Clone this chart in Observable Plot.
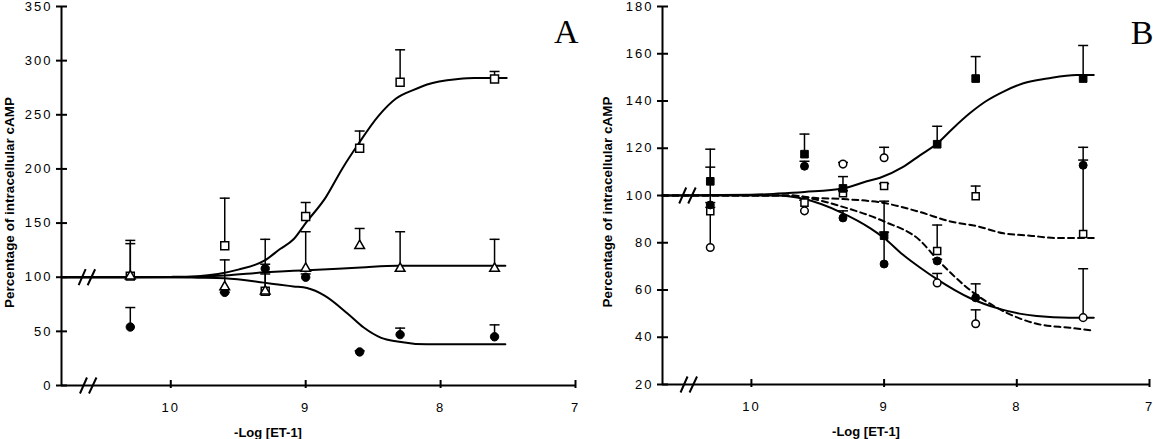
<!DOCTYPE html>
<html><head><meta charset="utf-8">
<script src="https://cdn.jsdelivr.net/npm/d3@7"></script>
<script src="https://cdn.jsdelivr.net/npm/@observablehq/plot@0.6"></script>
<style>
body{margin:0;background:#fff;}
#wrap{position:relative;width:1153px;height:439px;overflow:hidden;background:#fff}
#a{position:absolute;left:0;top:0}
#b{position:absolute;left:580px;top:0}
svg{overflow:visible}
[aria-label="x-axis tick label"], [aria-label="y-axis tick label"]{letter-spacing:2px}
</style></head><body><div id="wrap"><div id="a"></div><div id="b"></div></div>
<script>
// ---------- Panel A data ----------
const logA = [10.3, 9.6, 9.3, 9.0, 8.6, 8.3, 7.6];
const aSquare = [101, 129, 87, 156, 219, 280, 283];
const aSquareHi = [134, 173, 103, 169, 235, 310, 290];
const aTriangle = [101, 91, 87, 108, 129, 108, 108];
const aTriangleHi = [131, 116, 112, 142, 145, 142, 135];
const aCircle = [54, 86, 108, 100, 31, 47, 45];
const aCircleHi = [72, 86, 135, 103, 32, 53, 56];
const aFitUpX = [10.81, 10.3, 10.0, 9.8, 9.65, 9.5, 9.31, 9.19, 9.09, 9.0, 8.85, 8.73, 8.61, 8.46, 8.33, 8.2, 8.1, 7.87, 7.75, 7.51];
const aFitUpY = [100, 100, 100.3, 101, 103, 107, 115, 126, 135, 150, 174, 200, 223, 249, 265, 273, 278, 283, 284, 284];
const aFitMidX = [10.81, 10.0, 9.6, 9.3, 9.09, 8.99, 8.59, 8.32, 7.52];
const aFitMidY = [100, 100, 101.5, 104.5, 106, 106.5, 109, 110.5, 110.5];
const aFitLowX = [10.81, 10.0, 9.8, 9.6, 9.31, 9.19, 9.09, 8.99, 8.86, 8.69, 8.57, 8.44, 8.32, 8.1, 7.52];
const aFitLowY = [100, 100, 99.6, 99, 95, 93, 91.5, 90, 83, 66.5, 53.5, 44, 40.6, 38, 38];
const aYTicks = [0, 50, 100, 150, 200, 250, 300, 350];
const aXTicks = [10, 9, 8, 7];
const aBreakX = [10.62, 10.61];
const aBreakY = [100, 0];

// ---------- Panel B data ----------
const logB = [10.31, 9.6, 9.31, 9.0, 8.6, 8.31, 7.5];
const bFilledSquare = [106, 117.5, 103, 83, 121.7, 149.5, 149.5];
const bFilledSquareHi = [119.6, 126, 108, 97.6, 129.3, 158.8, 163.5];
const bOpenSquare = [93.4, 97, 101, 104, 76.5, 99.7, 83.7];
const bOpenSquareHi = [95, 98, 102, 105, 87.5, 104, 120.4];
const bFilledCircle = [96, 112.4, 90.5, 71, 72.3, 56.7, 112.8];
const bFilledCircleHi = [97, 114.5, 93.5, 84.5, 73, 62.6, 115];
const bOpenCircle = [78, 93.5, 113.3, 116, 63, 45.7, 48.3];
const bOpenCircleHi = [112, 98, 114, 120.4, 67, 51.6, 69];
const bFitUpX = [10.67, 10.0, 9.8, 9.6, 9.31, 9.13, 9.03, 8.86, 8.73, 8.6, 8.48, 8.35, 8.23, 8.1, 7.95, 7.77, 7.55, 7.42];
const bFitUpY = [100, 100.3, 100.8, 101.5, 103, 106, 107.5, 112, 117, 122, 128.5, 135, 140, 144, 147.5, 149.5, 151, 151];
const bFitLowX = [10.67, 10.0, 9.8, 9.6, 9.33, 9.1, 9.0, 8.86, 8.73, 8.6, 8.35, 8.13, 7.98, 7.85, 7.6, 7.42];
const bFitLowY = [100, 100, 100, 98.5, 93, 86, 82, 75, 69.5, 64.5, 56.5, 52, 50, 49, 48.3, 48.3];
const bDashUpX = [10.67, 10.0, 9.7, 9.53, 9.31, 9.0, 8.73, 8.5, 8.3, 8.1, 7.9, 7.7, 7.42];
const bDashUpY = [100, 100, 100, 99, 98.5, 96.8, 93, 89, 87, 84, 83, 82, 82];
const bDashLowX = [10.67, 10.0, 9.7, 9.53, 9.33, 9.0, 8.73, 8.6, 8.33, 8.15, 7.98, 7.85, 7.6, 7.42];
const bDashLowY = [100, 100, 100, 98.5, 95.5, 89, 81, 73, 59, 52.5, 48, 45.7, 44, 42.8];
const bYTicks = [20, 40, 60, 80, 100, 120, 140, 160, 180];
const bXTicks = [10, 9, 8, 7];
const bBreakX = [10.48, 10.47];
const bBreakY = [100, 20];

const yLabel = "Percentage of intracellular cAMP";
const xLabel = "-Log [ET-1]";

// ---------- helpers ----------
const rows = (xs, ys, his) => xs.map((x, i) => ({x, y: ys[i], hi: his ? his[i] : undefined}));
const capSym = {draw(ctx) { ctx.moveTo(-5, 0); ctx.lineTo(5, 0); }};
const breakSym = {draw(ctx) { ctx.moveTo(-8.5, 8); ctx.lineTo(-1.5, -8); ctx.moveTo(0.5, 8); ctx.lineTo(8, -8); }};

function errMarks(data) {
  return [
    Plot.ruleX(data, {x: "x", y1: "y", y2: "hi", stroke: "#000", strokeWidth: 1.5}),
    Plot.dot(data, {x: "x", y: "hi", symbol: capSym, r: 5, fill: "none", stroke: "#000", strokeWidth: 1.5})
  ];
}

function panel(o) {
  const marks = [
    Plot.ruleX([o.xDomain[0]], {stroke: "#000", strokeWidth: 2}),
    Plot.ruleY([o.yDomain[0]], {stroke: "#000", strokeWidth: 2}),
    Plot.axisY({ticks: o.yTicks, tickSize: 11, dx: 6, tickPadding: 4, label: null, strokeWidth: 2, fontSize: 13}),
    Plot.axisX({ticks: o.xTicks, tickSize: 8, dy: -5, tickPadding: 14, label: null, strokeWidth: 2, fontSize: 13, tickFormat: d => String(d)}),
    ...o.curves.map(c => Plot.line(c.data, {x: "x", y: "y", curve: "monotone-x", stroke: "#000", strokeWidth: 2, strokeDasharray: c.dash})),
    ...o.series.flatMap(s => errMarks(s.data)),
    ...o.series.map(s => Plot.dot(s.data, {x: "x", y: "y", symbol: s.symbol, r: s.r, fill: s.fill, stroke: "#000", strokeWidth: s.fill === "#000" ? 1 : 1.5})),
    Plot.dot(o.breaks, {x: "x", y: "y", symbol: breakSym, r: 8, fill: "none", stroke: "#000", strokeWidth: 2}),
    Plot.text([yLabel], {text: d => d, frameAnchor: "left", textAnchor: "middle", lineAnchor: "middle", rotate: -90, dx: o.ylabelDx, dy: 6.5, fontWeight: "bold", fontSize: 13.5, fill: "#000"}),
    Plot.text([xLabel], {text: d => d, frameAnchor: "bottom", textAnchor: "middle", lineAnchor: "middle", dx: o.xlabelDx, dy: 47, fontWeight: "bold", fontSize: 13, fill: "#000"}),
    Plot.text([o.letter], {text: d => d, frameAnchor: "top-right", textAnchor: "end", lineAnchor: "top", dx: o.letterDx, dy: o.letterDy, fontFamily: "'Liberation Serif', 'Times New Roman', serif", fontSize: 34, fill: "#000"})
  ];
  return Plot.plot({
    width: o.width, height: 439,
    marginLeft: o.marginLeft, marginRight: o.marginRight, marginTop: o.marginTop, marginBottom: o.marginBottom,
    x: {domain: o.xDomain},
    y: {domain: o.yDomain},
    style: {fontFamily: "'Liberation Sans', Arial, sans-serif", fontSize: "13px", color: "#000", background: "transparent", overflow: "visible"},
    marks
  });
}

const plotA = panel({
  width: 580, marginLeft: 61, marginRight: 5, marginTop: 6, marginBottom: 54,
  xDomain: [10.81, 7], yDomain: [0, 350], yTicks: aYTicks, xTicks: aXTicks,
  curves: [
    {data: rows(aFitUpX, aFitUpY)},
    {data: rows(aFitMidX, aFitMidY)},
    {data: rows(aFitLowX, aFitLowY)}
  ],
  series: [
    {data: rows(logA, aSquare, aSquareHi), symbol: "square", r: 4.5, fill: "#fff"},
    {data: rows(logA, aCircle, aCircleHi), symbol: "circle", r: 4.2, fill: "#000"},
    {data: rows(logA, aTriangle, aTriangleHi), symbol: "triangle", r: 3.6, fill: "#fff"}
  ],
  breaks: rows(aBreakX, aBreakY),
  letter: "A", letterDx: 3, letterDy: 12, ylabelDx: -52, xlabelDx: -50.5
});
const plotB = panel({
  width: 573, marginLeft: 82, marginRight: 4, marginTop: 6, marginBottom: 55,
  xDomain: [10.67, 7], yDomain: [20, 180], yTicks: bYTicks, xTicks: bXTicks,
  curves: [
    {data: rows(bFitUpX, bFitUpY)},
    {data: rows(bFitLowX, bFitLowY)},
    {data: rows(bDashUpX, bDashUpY), dash: "6,4"},
    {data: rows(bDashLowX, bDashLowY), dash: "6,4"}
  ],
  series: [
    {data: rows(logB, bOpenCircle, bOpenCircleHi), symbol: "circle", r: 3.8, fill: "#fff"},
    {data: rows(logB, bOpenSquare, bOpenSquareHi), symbol: "square", r: 4, fill: "#fff"},
    {data: rows(logB, bFilledCircle, bFilledCircleHi), symbol: "circle", r: 4, fill: "#000"},
    {data: rows(logB, bFilledSquare, bFilledSquareHi), symbol: "square", r: 4.3, fill: "#000"}
  ],
  breaks: rows(bBreakX, bBreakY),
  letter: "B", letterDx: 4, letterDy: 13, ylabelDx: -55, xlabelDx: -40
});
document.getElementById("a").appendChild(plotA);
document.getElementById("b").appendChild(plotB);
</script>
</body></html>
